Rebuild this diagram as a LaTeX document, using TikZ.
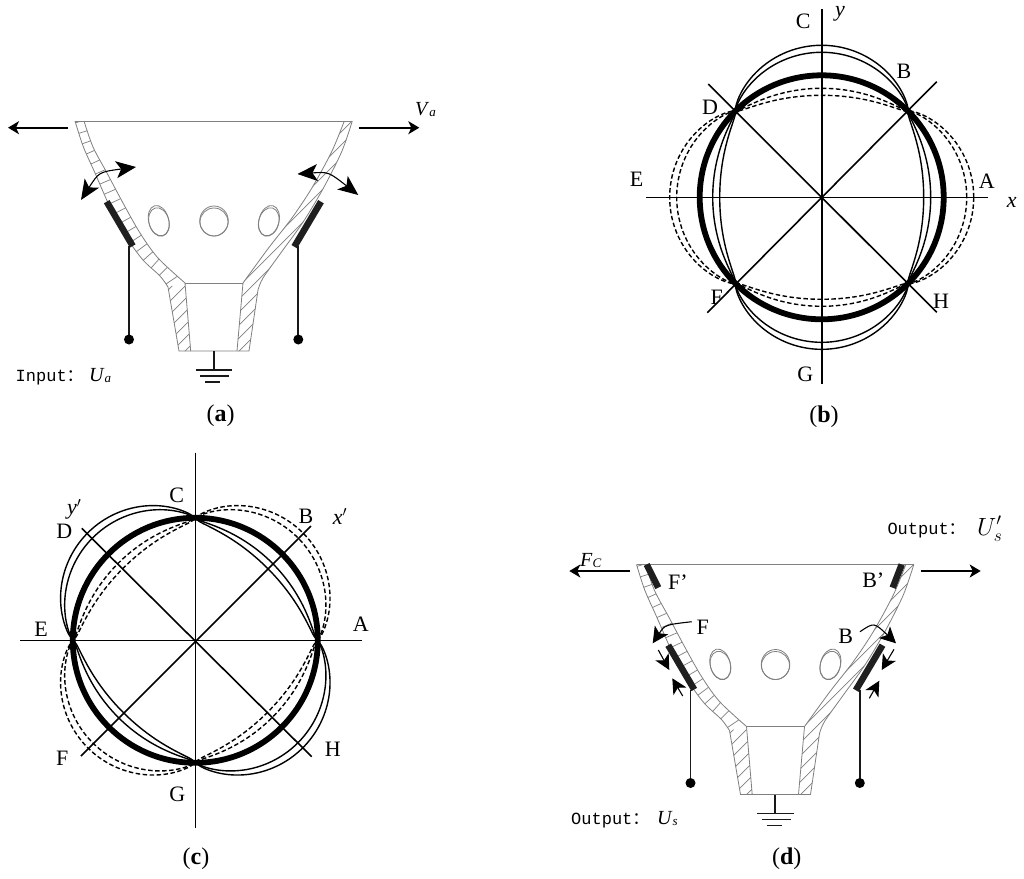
\documentclass[tikz,border=0pt]{standalone}
\usepackage{fontspec}
\setmainfont{Liberation Serif}
\newfontfamily\monof{Liberation Mono}
\newfontfamily\cjkf{Noto Sans CJK SC}
\usetikzlibrary{arrows.meta,decorations.markings}
\tikzset{
  wall/.style={draw=black!50,line width=0.8pt},
  hatchline/.style={draw=black!50,line width=0.7pt},
  wire/.style={draw=black!90,line width=1.9pt},
  electrode/.style={draw=black!88,line width=6.5pt},
  force/.style={draw=black,line width=1.7pt,-{Stealth[length=11pt,width=13pt,inset=3pt]}},
  swing/.style={draw=black,line width=1.1pt,{Stealth[length=20pt,width=17pt,inset=5pt]}-{Stealth[length=20pt,width=17pt,inset=5pt]}},
  swingone/.style={draw=black,line width=1.1pt,-{Stealth[length=16pt,width=16pt,inset=4pt]}},
  press/.style={draw=black,line width=1.1pt,-{Stealth[length=15pt,width=15pt,inset=4pt]}},
  axisline/.style={draw=black,line width=1.6pt},
  ring/.style={draw=black,line width=5.8pt},
  lobeline/.style={draw=black,line width=1.4pt},
  lobedash/.style={draw=black,line width=1.4pt,dash pattern=on 4.5pt off 2.5pt},
  lab/.style={inner sep=0pt,font=\fontsize{22}{22}\selectfont},
  captext/.style={inner sep=0pt,font=\fontsize{24}{24}\selectfont},
  mono/.style={inner sep=0pt,anchor=base west,font=\fontsize{17}{17}\selectfont\monof},
  declare function={lobe(\t,\a,\b)=122+(cos(2*\t)>0?\a*(abs(cos(2*\t))+0.001)^0.8:-\b*(abs(cos(2*\t))+0.001)^0.7);}
}
\newcommand{\coneshell}[2]{%
\begin{scope}[shift={(#1,#2)}]
  % hole outlines
  \draw[wall] (159,222) ellipse [x radius=10,y radius=14.5,rotate=15];
  \draw[wall] (158.7,220.7) ellipse [x radius=10,y radius=15.5,rotate=15];
  \draw[wall] (214,222) circle [radius=14];
  \draw[wall] (214,221) ellipse [x radius=14.3,y radius=15];
  \draw[wall] (268.7,222) ellipse [x radius=10,y radius=14.5,rotate=-15];
  \draw[wall] (269,220.7) ellipse [x radius=10,y radius=15.5,rotate=-15];
  % left wall rungs
  \begin{scope}
    \clip plot[smooth] coordinates {(75,121) (83.3,146.7) (95,173) (110,207) (127,238) (143,260) (160,276) (168,287)}
       -- (185,283) -- plot[smooth] coordinates {(185,283) (158,258) (140,233) (123,203) (107,173) (93,147) (84,121)} -- cycle;
    \path[decoration={markings,mark=between positions 0.01 and 0.99 step 11pt with {\draw[hatchline] (0pt,0pt) -- (0pt,18pt);}},decorate]
       plot[smooth] coordinates {(75,121) (83.3,146.7) (95,173) (110,207) (127,238) (143,260) (160,276) (168,287)};
  \end{scope}
  % left base hatching
  \begin{scope}
    \clip (168,287) -- (185,283) -- (190.7,351) -- (179,351) -- cycle;
    \foreach \c in {445,458,...,550} {\draw[hatchline] (\c-400,400) -- (\c,0);}
  \end{scope}
  % right wall and base hatching
  \begin{scope}
    \clip plot[smooth] coordinates {(352.3,121) (341.7,151.7) (323.3,188.3) (303.3,221.7) (281.7,251.7) (263,278) (258,290)}
       -- (249,351) -- (237,351) -- (243,283) -- plot[smooth] coordinates {(243,283) (268.3,248.3) (291.7,218.3) (311.7,188.3) (331.7,151.7) (344.3,121)} -- cycle;
    \foreach \c in {473,486,...,600} {\draw[hatchline] (\c-400,400) -- (\c,0);}
  \end{scope}
  % outlines
  \draw[wall] (75,121) -- (352.3,121);
  \draw[wall] plot[smooth] coordinates {(75,121) (83.3,146.7) (95,173) (110,207) (127,238) (143,260) (160,276) (168,287)} -- (179,351) -- (249,351) -- (258,290)
     -- plot[smooth] coordinates {(258,290) (263,278) (281.7,251.7) (303.3,221.7) (323.3,188.3) (341.7,151.7) (352.3,121)};
  \draw[wall] plot[smooth] coordinates {(84,121) (93,147) (107,173) (123,203) (140,233) (158,258) (185,283)} -- (190.7,351);
  \draw[wall] plot[smooth] coordinates {(344.3,121) (331.7,151.7) (311.7,188.3) (291.7,218.3) (268.3,248.3) (243,283)} -- (237,351);
  \draw[wall] (185,283) -- (243,283);
  % electrodes, wires, terminals
  \draw[electrode] (106.7,201.7) -- (132.7,246);
  \draw[electrode] (321,201.7) -- (294.3,246.7);
  \draw[wire] (129,246) -- (129,339);
  \draw[wire] (298.3,246) -- (298.3,339);
  \fill[black] (129,339.5) circle [radius=5];
  \fill[black] (298.3,339.5) circle [radius=5];
  % ground
  \draw[wire] (213.7,351) -- (213.7,370);
  \draw[wire] (195.5,370) -- (232,370);
  \draw[wire] (200,376) -- (229,376);
  \draw[wire] (205,382) -- (220,382);
\end{scope}}
\begin{document}
\begin{tikzpicture}[x=1pt,y=-1pt]
\useasboundingbox (0,0) rectangle (1024,878);
\fill[white] (0,0) rectangle (1024,878);
%% (a)
\coneshell{0}{0}
\coordinate (aL1) at (68,127.7); \coordinate (aL2) at (8,127.7);
\coordinate (aR1) at (359.3,127.7); \coordinate (aR2) at (419.3,127.7);
\draw[force] (aL1) -- (aL2);
\draw[force] (aR1) -- (aR2);
\draw[swing] (81,200) .. controls (99,172) .. (136,167);
\draw[swing] (297.5,174) .. controls (328.5,171.8) .. (358.3,195);
\node[inner sep=0pt,anchor=base west] (va) at (415,115) {\fontsize{20}{20}\selectfont\textit{V}\raisebox{-1.5pt}{\fontsize{13}{13}\selectfont\textit{a}}};
\node[mono] (inp) at (15.5,381) {Input{\cjkf ：}};
\node[inner sep=0pt,anchor=base west] (ua) at (89,381) {\fontsize{20}{20}\selectfont\textit{U}\raisebox{-1.5pt}{\fontsize{13}{13}\selectfont\textit{a}}};
\node[captext] (capa) at (220.7,416) {(\textbf{a})};
%% (b)
\draw[axisline] (646,197.3) -- (988.3,197.3);
\draw[axisline] (821.7,9.3) -- (821.7,384);
\draw[axisline] (708.3,84) -- (936.7,312.3);
\draw[axisline] (936.7,81.7) -- (707.3,312.7);
\draw[ring] (821.7,197.3) circle [radius=122];
\foreach \pa/\pb in {30/13,23/20} {
  \draw[lobeline] plot[domain=0:360,samples=181,smooth] ({821.7+lobe(\x-90,\pa,\pb)*cos(\x)},{197.3-lobe(\x-90,\pa,\pb)*sin(\x)}) -- cycle;
  \draw[lobedash] plot[domain=0:360,samples=181,smooth] ({821.7+lobe(\x,\pa,\pb)*cos(\x)},{197.3-lobe(\x,\pa,\pb)*sin(\x)}) -- cycle;
}
\node[lab] (bC) at (803.3,21.7) {C};
\node[lab] (by) at (840,14) {\textit{y}};
\node[lab] (bB) at (904,71) {B};
\node[lab] (bD) at (710,107.7) {D};
\node[lab] (bE) at (636.7,179) {E};
\node[lab] (bA) at (986.7,181) {A};
\node[lab] (bx) at (1011.7,202.7) {\textit{x}};
\node[lab] (bF) at (716.7,297.7) {F};
\node[lab] (bH) at (941,301.7) {H};
\node[lab] (bG) at (805.3,374) {G};
\node[captext] (capb) at (824,416.7) {(\textbf{b})};
%% (c)
\draw[axisline] (20,640.3) -- (362.3,640.3);
\draw[axisline] (195.3,452.7) -- (195.3,828.3);
\draw[axisline] (81.7,528.3) -- (311.7,756.7);
\draw[axisline] (311,526) -- (81,756);
\draw[ring] (195.3,640.3) circle [radius=122.5];
\foreach \pa/\pb in {30/13,23/20} {
  \draw[lobeline] plot[domain=0:360,samples=181,smooth] ({195.3+lobe(\x-135,\pa,\pb)*cos(\x)},{640.3-lobe(\x-135,\pa,\pb)*sin(\x)}) -- cycle;
  \draw[lobedash] plot[domain=0:360,samples=181,smooth] ({195.3+lobe(\x-45,\pa,\pb)*cos(\x)},{640.3-lobe(\x-45,\pa,\pb)*sin(\x)}) -- cycle;
}
\node[lab] (cC) at (176.7,495) {C};
\node[lab] (cy) at (74.3,509.3) {\textit{y}$'$};
\node[lab] (cD) at (64.3,531.7) {D};
\node[lab] (cB) at (306,516) {B};
\node[lab] (cx) at (340,516.7) {\textit{x}$'$};
\node[lab] (cE) at (41,629) {E};
\node[lab] (cA) at (360.7,624) {A};
\node[lab] (cF) at (62.3,758.3) {F};
\node[lab] (cH) at (332.7,749) {H};
\node[lab] (cG) at (177.3,794.3) {G};
\node[captext] (capc) at (196,858.3) {(\textbf{c})};
%% (d)
\coneshell{561.5}{443.5}
\draw[electrode] (646.7,564.5) -- (658.3,587.7);
\draw[electrode] (901.7,564.5) -- (892.7,587.7);
\coordinate (dL1) at (630,571); \coordinate (dL2) at (569.3,571);
\coordinate (dR1) at (920.7,571); \coordinate (dR2) at (980.7,571);
\draw[force] (dL1) -- (dL2);
\draw[force] (dR1) -- (dR2);
\draw[swingone] (691.7,621.7) .. controls (664.9,624.8) .. (652.7,643.3);
\draw[swingone] (860,631.7) .. controls (874,622.2) .. (896,643.3);
\draw[press] (658.3,650) -- (669.3,670);
\draw[press] (682.7,696) -- (672.3,678.3);
\draw[press] (894,649.3) -- (881.7,670);
\draw[press] (869.3,698.3) -- (879.3,680.7);
\node[inner sep=0pt,anchor=base west] (fc) at (580,566) {\fontsize{20}{20}\selectfont\textit{F}\raisebox{-1.5pt}{\fontsize{13}{13}\selectfont\textit{C}}};
\node[lab] (dFp) at (678,581.7) {F’};
\node[lab] (dBp) at (873.3,580) {B’};
\node[lab] (dF) at (702.7,627.3) {F};
\node[lab] (dB) at (845.7,636) {B};
\node[mono] (outa) at (887.3,534) {Output{\cjkf ：}};
\node[inner sep=0pt,anchor=base west] (usp) at (977,535) {\fontsize{24}{24}\selectfont$U'_s$};
\node[mono] (outb) at (571,824) {Output{\cjkf ：}};
\node[inner sep=0pt,anchor=base west] (us) at (657,824) {\fontsize{20}{20}\selectfont\textit{U}\raisebox{-1.5pt}{\fontsize{13}{13}\selectfont\textit{s}}};
\node[captext] (capd) at (786.7,858.3) {(\textbf{d})};
\end{tikzpicture}
\end{document}
